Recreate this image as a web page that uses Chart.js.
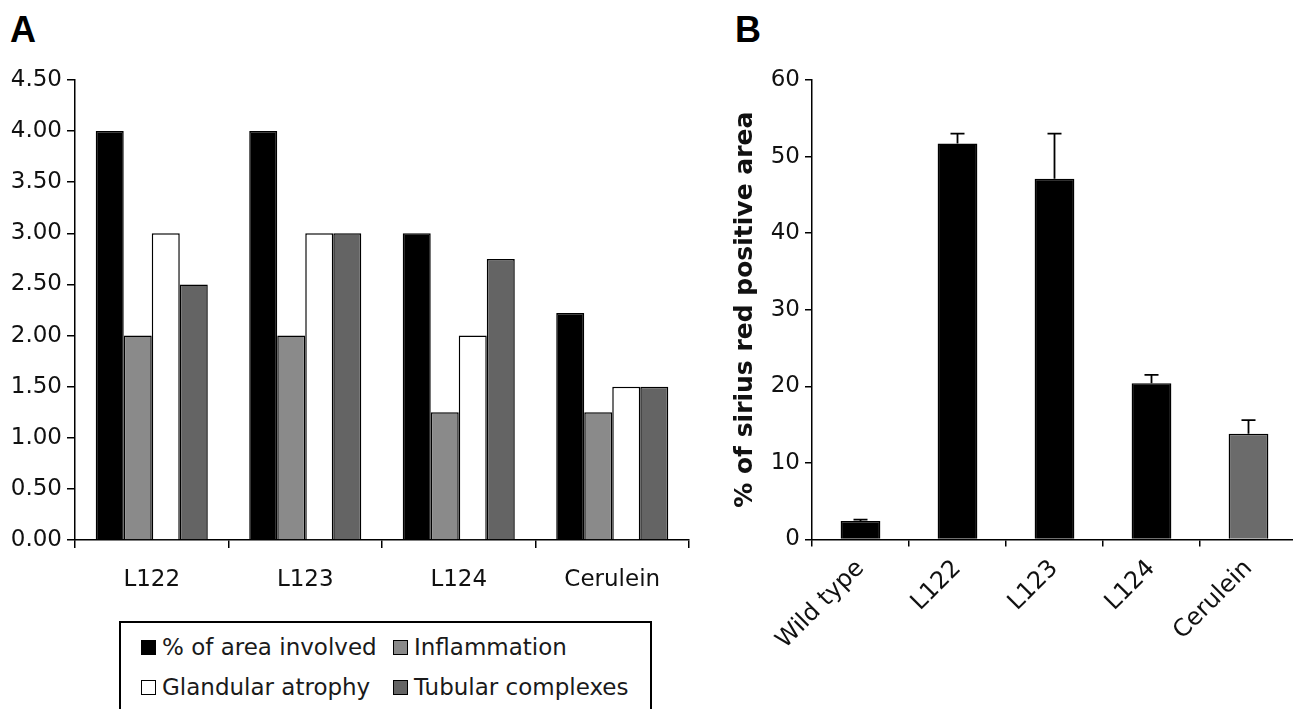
<!DOCTYPE html>
<html>
<head>
<meta charset="utf-8">
<script src="https://cdn.jsdelivr.net/npm/chart.js@4.4.1/dist/chart.umd.min.js"></script>
<style>
  html, body { margin: 0; padding: 0; background: #fff; }
  body { width: 1293px; height: 709px; overflow: hidden; position: relative; font-family: "DejaVu Sans", sans-serif; }
  .panel-letter { position: absolute; font-family: "Liberation Sans", Arial, sans-serif; font-weight: bold; font-size: 36px; line-height: 36px; color: #000; }
  #wrapA { position: absolute; left: 0; top: 0; width: 700px; height: 600px; }
  #wrapB { position: absolute; left: 700px; top: 0; width: 600px; height: 709px; }
  #legendA { position: absolute; left: 119px; top: 621px; width: 533px; height: 110px; border: 2px solid #000; box-sizing: border-box;
             display: grid; grid-template-columns: 252px auto; grid-auto-rows: 40px; padding: 4px 0 0 20px; font-size: 23px; color: #1a1a1a; }
  #legendA .item { display: flex; align-items: center; white-space: nowrap; }
  #legendA .sw { width: 15px; height: 15px; border: 1.5px solid #000; box-sizing: border-box; margin-right: 6px; }
</style>
</head>
<body>
<div class="panel-letter" style="left:10px; top:12px;">A</div>
<div class="panel-letter" style="left:735px; top:12px;">B</div>
<div id="wrapA"><canvas id="chartA" width="700" height="600"></canvas></div>
<div id="wrapB"><canvas id="chartB" width="600" height="709"></canvas></div>
<div id="legendA"></div>
<script>
// ---- Panel A data ----
const categoriesA = ['L122', 'L123', 'L124', 'Cerulein'];
const seriesNamesA = ['% of area involved', 'Inflammation', 'Glandular atrophy', 'Tubular complexes'];
const areaInvolved = [4.00, 4.00, 3.00, 2.22];
const inflammation = [2.00, 2.00, 1.25, 1.25];
const glandularAtrophy = [3.00, 3.00, 2.00, 1.50];
const tubularComplexes = [2.50, 3.00, 2.75, 1.50];
const seriesColorsA = ['#000000', '#8a8a8a', '#ffffff', '#646464'];

// ---- Panel B data ----
const categoriesB = ['Wild type', 'L122', 'L123', 'L124', 'Cerulein'];
const siriusRed = [2.4, 51.7, 47.1, 20.4, 13.8];
const siriusRedErr = [0.2, 1.3, 5.9, 1.1, 1.8];
const barColorsB = ['#000000', '#000000', '#000000', '#000000', '#6b6b6b'];
const yTitleB = '% of sirius red positive area';

const FONT = '"DejaVu Sans", sans-serif';
const TXT = '#111111';

const seriesValuesA = [areaInvolved, inflammation, glandularAtrophy, tubularComplexes];

new Chart(document.getElementById('chartA'), {
  type: 'bar',
  data: {
    labels: categoriesA,
    datasets: seriesNamesA.map((name, i) => ({
      label: name,
      data: seriesValuesA[i],
      backgroundColor: seriesColorsA[i],
      borderColor: '#000',
      borderWidth: 1.5,
      categoryPercentage: 0.73,
      barPercentage: 1.0
    }))
  },
  options: {
    responsive: false,
    animation: false,
    layout: { padding: { top: 80, right: 11, left: 0, bottom: 0 } },
    plugins: { legend: { display: false }, tooltip: { enabled: false } },
    scales: {
      x: {
        afterFit: s => { s.height = 60; },
        grid: { drawOnChartArea: false, drawTicks: true, tickLength: 8, color: '#000', lineWidth: 1.5 },
        border: { color: '#000', width: 1.5 },
        ticks: { color: TXT, font: { family: FONT, size: 23 }, padding: 18 }
      },
      y: {
        min: 0, max: 4.5,
        afterFit: s => { s.width = 75; },
        grid: { drawOnChartArea: false, drawTicks: true, tickLength: 8, color: '#000', lineWidth: 1.5 },
        border: { color: '#000', width: 1.5 },
        ticks: { stepSize: 0.5, color: TXT, font: { family: FONT, size: 23 }, padding: 5,
                 callback: v => Number(v).toFixed(2) }
      }
    }
  }
});

// HTML legend for panel A, built from the series arrays
const legendEl = document.getElementById('legendA');
seriesNamesA.forEach((name, i) => {
  const item = document.createElement('div');
  item.className = 'item';
  const sw = document.createElement('span');
  sw.className = 'sw';
  sw.style.background = seriesColorsA[i];
  const t = document.createElement('span');
  t.textContent = name;
  item.appendChild(sw); item.appendChild(t);
  legendEl.appendChild(item);
});

const errorBars = {
  id: 'errorBars',
  afterDatasetsDraw(chart) {
    const ctx = chart.ctx;
    const meta = chart.getDatasetMeta(0);
    const yS = chart.scales.y;
    ctx.save();
    ctx.strokeStyle = '#000';
    ctx.lineWidth = 1.8;
    meta.data.forEach((bar, i) => {
      const v = siriusRed[i], e = siriusRedErr[i];
      const y0 = yS.getPixelForValue(v);
      const y1 = yS.getPixelForValue(v + e);
      ctx.beginPath();
      ctx.moveTo(bar.x, y0);
      ctx.lineTo(bar.x, y1);
      ctx.moveTo(bar.x - 7, y1);
      ctx.lineTo(bar.x + 7, y1);
      ctx.stroke();
    });
    ctx.restore();
  }
};

new Chart(document.getElementById('chartB'), {
  type: 'bar',
  data: {
    labels: categoriesB,
    datasets: [{
      label: yTitleB,
      data: siriusRed,
      backgroundColor: barColorsB,
      borderColor: '#000',
      borderWidth: 1.5,
      categoryPercentage: 1.0,
      barPercentage: 0.41
    }]
  },
  options: {
    responsive: false,
    animation: false,
    layout: { padding: { top: 80, right: 3, left: 0, bottom: 0 } },
    plugins: { legend: { display: false }, tooltip: { enabled: false } },
    scales: {
      x: {
        afterFit: s => { s.height = 169.5; },
        grid: { drawOnChartArea: false, drawTicks: true, tickLength: 7, color: '#000', lineWidth: 1.5 },
        border: { color: '#000', width: 1.5 },
        ticks: { color: TXT, font: { family: FONT, size: 24 }, padding: 8, minRotation: 45, maxRotation: 45 }
      },
      y: {
        min: 0, max: 60,
        afterFit: s => { s.width = 112; },
        grid: { drawOnChartArea: false, drawTicks: true, tickLength: 7, color: '#000', lineWidth: 1.5 },
        border: { color: '#000', width: 1.5 },
        ticks: { stepSize: 10, color: TXT, font: { family: FONT, size: 23 }, padding: 5 },
        title: { display: true, text: yTitleB, color: TXT,
                 font: { family: FONT, size: 25, weight: 'bold' }, padding: { top: 30, bottom: 0 } }
      }
    }
  },
  plugins: [errorBars]
});
</script>
</body>
</html>
